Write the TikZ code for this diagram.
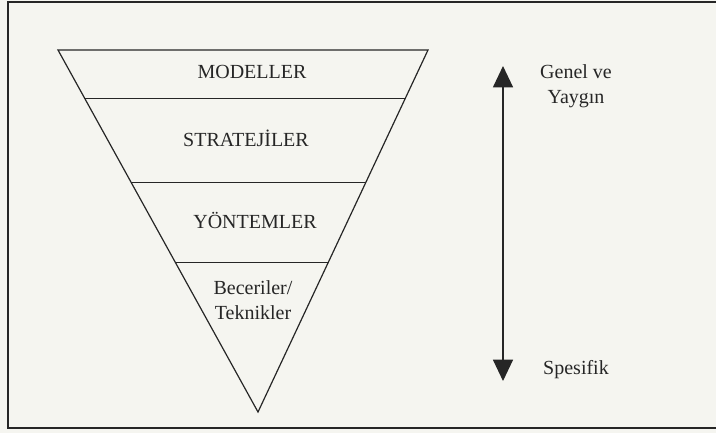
\documentclass[tikz,border=0pt]{standalone}
\usepackage{fontspec}
\setmainfont{Liberation Serif}
\usetikzlibrary{arrows.meta,calc}
\definecolor{paper}{RGB}{245,245,240}
\definecolor{ink}{RGB}{38,38,38}

\begin{document}
\begin{tikzpicture}[x=0.75pt,y=-0.75pt,font=\fontsize{15}{19}\selectfont,
  level/.style={text=ink,align=center,inner sep=0pt},
  side/.style={text=ink,align=center,inner sep=0pt}]
  % page and open frame (cut off on the right)
  \useasboundingbox (0,0) rectangle (716,433);
  \fill[paper] (0,0) rectangle (716,433);
  \draw[ink,line width=1.3pt] (716,2) -- (8,2) -- (8,428) -- (716,428);
  % inverted triangle
  \coordinate (tl) at (58,50);
  \coordinate (tr) at (428,50);
  \coordinate (apex) at (258,412);
  \draw[ink,line width=0.9pt] (tl) -- (tr) -- (apex) -- cycle;
  % dividing lines
  \foreach \t in {0.135,0.365,0.588}
    \draw[ink,line width=0.9pt] ($(tl)!\t!(apex)$) -- ($(tr)!\t!(apex)$);
  % level labels
  \node[level] (modeller) at (252,72) {MODELLER};
  \node[level] (strateji) at (246,138) {STRATEJİLER};
  \node[level] (yontem) at (255,220) {YÖNTEMLER};
  \node[level] (beceri) at (253,300) {Beceriler/\\Teknikler};
  % general -- specific arrow
  \coordinate (gtop) at (503,66);
  \coordinate (gbot) at (503,381);
  \draw[ink,line width=0.9pt,
    {Triangle[width=15pt,length=16pt]}-{Triangle[width=15pt,length=16pt]}]
    (gtop) -- (gbot);
  \node[side] (genel) at (576,86) {Genel ve\\Yaygın};
  \node[side] (spesifik) at (576,370) {Spesifik};
\end{tikzpicture}
\end{document}
